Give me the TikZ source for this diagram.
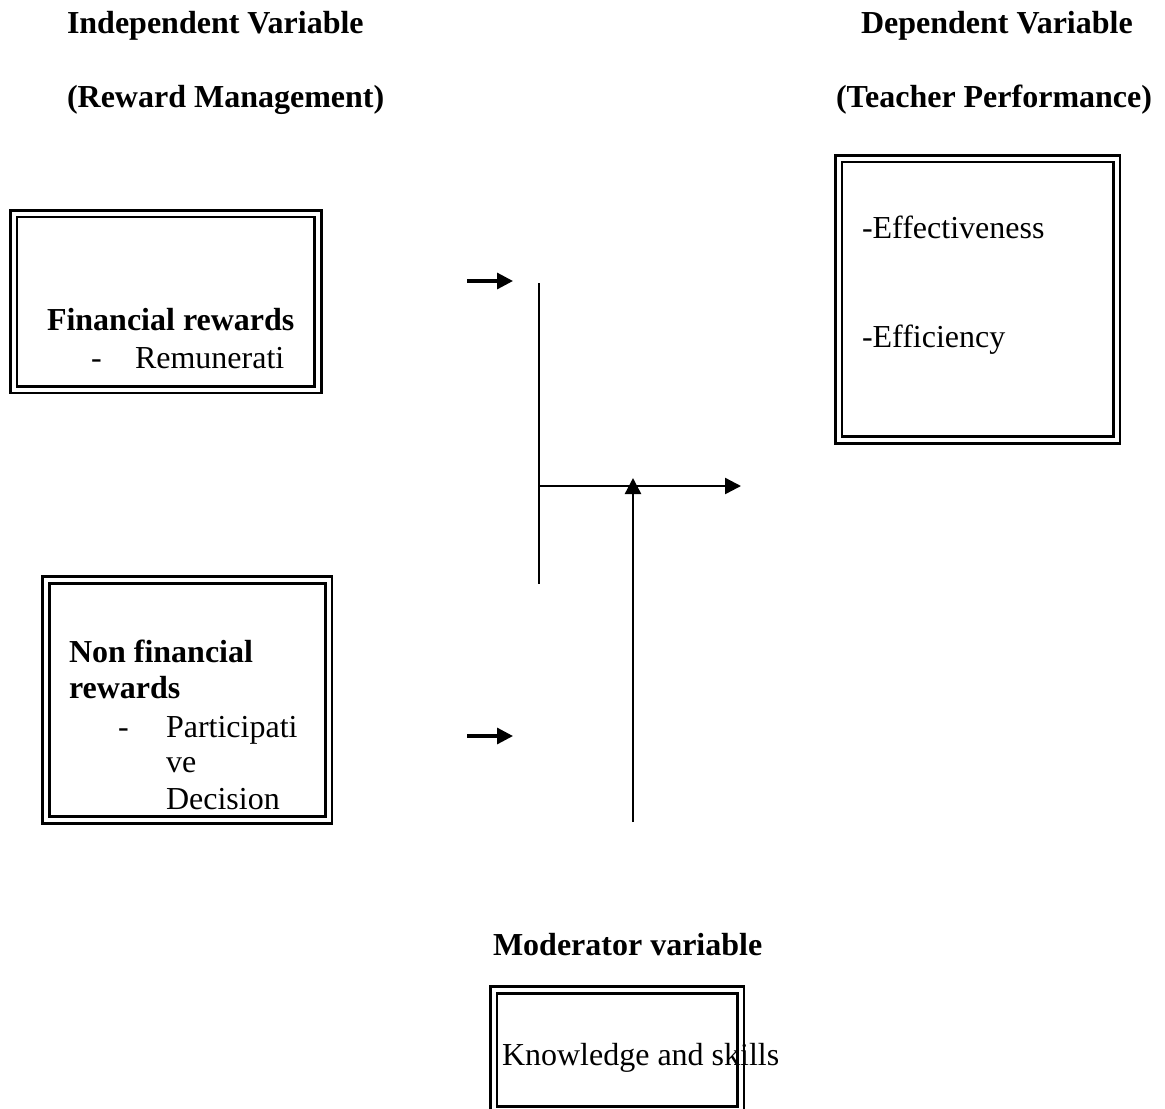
\documentclass[tikz,border=0pt]{standalone}
\usepackage{fontspec}
\setmainfont{Liberation Serif}
\usetikzlibrary{arrows.meta,positioning}

\begin{document}
\begin{tikzpicture}[x=0.5pt,y=-0.5pt,
    font=\fontsize{16}{18.5}\selectfont,
    every node/.style={inner sep=0pt,outer sep=0pt},
    label/.style={anchor=base west},
    head/.style={anchor=base west,font=\fontsize{16}{18.5}\selectfont\bfseries}]
  \tikzstyle{dblbox}=[draw,double,double distance=2pt,line width=1.4pt]
  \tikzstyle{stub}=[line width=1.6pt,-{Triangle[length=8pt,width=8pt]}]
  \tikzstyle{link}=[line width=1.2pt]
  \useasboundingbox (0,0) rectangle (1165,1108);
  \clip (0,0) rectangle (1165,1108);
  % Headings
  \node[head] (indep) at (67,33) {Independent Variable};
  \node[head] (reward) at (67,107) {(Reward Management)};
  \node[head] (dep) at (861,33) {Dependent Variable};
  \node[head] (teacher) at (836,107) {(Teacher Performance)};
  \node[head] (moder) at (493,955) {Moderator variable};
  % Boxes
  \node[dblbox, minimum width=152.25pt, minimum height=88pt] (fin) at (165.75,301.5) {};
  \node[dblbox, minimum width=141.25pt, minimum height=120pt] (nonfin) at (187.25,700) {};
  \node[dblbox, minimum width=139pt, minimum height=140.75pt] (perf) at (977.5,299.25) {};
  \node[dblbox, minimum width=123.5pt, minimum height=59.75pt] (know) at (617,1049.75) {};
  % Box texts
  \node[head] (fintitle) at (47,330) {Financial rewards};
  \node[label] (findash) at (91,368) {-};
  \node[label] (finitem) at (135,368) {Remunerati};
  \node[head] (nftitle) at (69,662) {Non financial};
  \node[head] (nftitleb) at (69,698) {rewards};
  \node[label] (nfdash) at (118,737) {-};
  \node[label] (nfitem) at (166,737) {Participati};
  \node[label] (nfitemb) at (166,772) {ve};
  \node[label] (nfitemc) at (166,809) {Decision};
  \node[label] (effect) at (862,238) {-Effectiveness};
  \node[label] (effic) at (862,347) {-Efficiency};
  \node[label] (skills) at (502,1065) {Knowledge and skills};
  % Connectors
  \coordinate (a1) at (467,281);
  \coordinate (a1e) at (513,281);
  \coordinate (a2) at (467,736);
  \coordinate (a2e) at (513,736);
  \coordinate (bartop) at (539,283);
  \coordinate (barbot) at (539,584);
  \coordinate (join) at (539,486);
  \coordinate (out) at (741,486);
  \coordinate (modbot) at (633,822);
  \coordinate (modtip) at (633,478);
  \draw[stub] (a1) -- (a1e);
  \draw[stub] (a2) -- (a2e);
  \draw[link] (bartop) -- (barbot);
  \draw[link,-{Triangle[length=8pt,width=8pt]}] (join) -- (out);
  \draw[link,-{Triangle[length=8pt,width=8pt]}] (modbot) -- (modtip);
\end{tikzpicture}
\end{document}
